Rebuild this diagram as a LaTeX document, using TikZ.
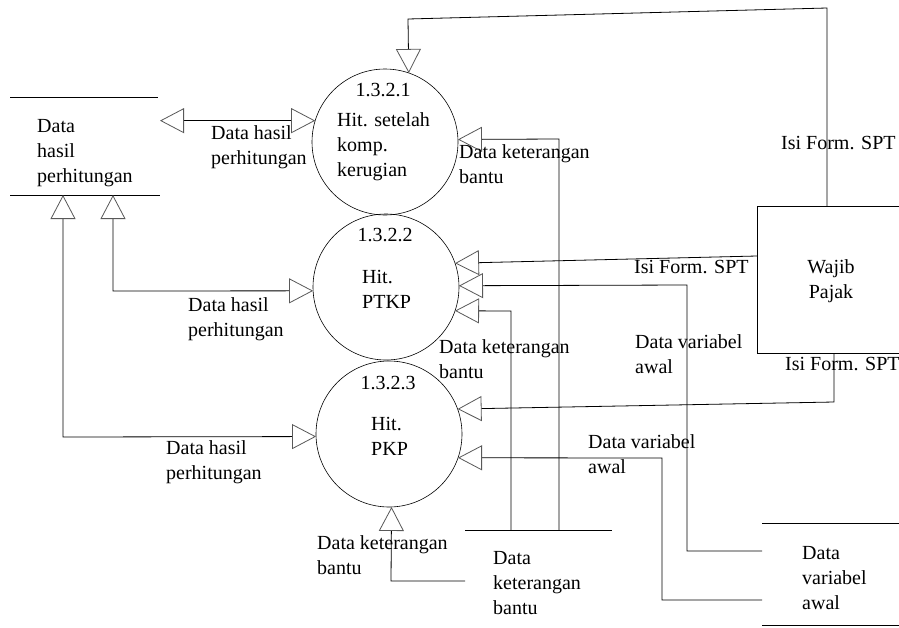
\documentclass[tikz,border=0pt]{standalone}
\usepackage{fontspec}
\setmainfont{Liberation Serif}
\usetikzlibrary{arrows.meta}
\tikzset{
  otri/.tip={Triangle[open,length=24pt,width=25pt,color=black!65]},
  flow/.style={line width=0.8pt,draw=black},
  proc/.style={circle,draw=black,line width=0.6pt,minimum size=146pt,inner sep=0pt,outer sep=0pt},
  storebox/.style={rectangle,draw=none,inner sep=0pt,outer sep=0pt,anchor=north west},
  ent/.style={rectangle,draw=black,line width=0.8pt,inner sep=0pt,outer sep=0pt,anchor=north west},
  lbl/.style={align=left,inner sep=0pt,anchor=north west},
  ctr/.style={align=center,inner sep=0pt,anchor=center},
}
\begin{document}
\begin{tikzpicture}[x=1pt,y=-1pt,font=\fontsize{20}{25}\selectfont]
\useasboundingbox[fill=white] (0,0) rectangle (899,627);

% processes
\node[proc] (c1) at (385,142) {};
\node[proc] (c2) at (386,287) {};
\node[proc] (c3) at (389,434) {};
\node[ctr] (id1) at (383,90) {1.3.2.1};
\node[lbl] (tx1) at (337,112) {Hit. setelah\\komp.\\kerugian};
\node[ctr] (id2) at (385,235) {1.3.2.2};
\node[lbl] (tx2) at (362,270) {Hit.\\PTKP};
\node[ctr] (id3) at (388,383) {1.3.2.3};
\node[lbl] (tx3) at (371,417) {Hit.\\PKP};

% data stores
\node[storebox,minimum width=150pt,minimum height=98pt] (dhp) at (10,97) {};
\draw[flow] (dhp.north west) -- ++(148,0);
\draw[flow] (dhp.south west) -- (dhp.south east);
\node[lbl] (dhpt) at (37,119) {Data\\hasil\\perhitungan};

\node[storebox,minimum width=147pt,minimum height=105pt] (dkb) at (465,530) {};
\draw[flow] (dkb.north west) -- (dkb.north east);
\node[lbl] (dkbt) at (493,551) {Data\\keterangan\\bantu};

\node[storebox,minimum width=160pt,minimum height=102pt] (dva) at (762,523) {};
\draw[flow] (dva.north west) -- (dva.north east);
\draw[flow] (dva.south west) -- (dva.south east);
\node[lbl] (dvat) at (802,546) {Data\\variabel\\awal};

% external entity
\node[ent,minimum width=170pt,minimum height=147pt] (wp) at (757,206) {};
\node[ctr] (wpt) at (831,281) {Wajib\\Pajak};

% bend points
\coordinate (t1) at (408,19);
\coordinate (t2) at (827,8);
\coordinate (k1) at (113,291);
\coordinate (k2) at (63,437);
\coordinate (k3) at (559,139);
\coordinate (k5) at (687,285);
\coordinate (k6) at (687,551);
\coordinate (k7) at (511,311);
\coordinate (k8) at (834,402);
\coordinate (k9) at (662,600);
\coordinate (k10) at (662,458);
\coordinate (k11) at (391,581);

% connectors
\draw[flow,-otri] (t2 |- wp.north) -- (t2) -- (t1) -- (c1.71.6);
\draw[flow,otri-otri] (c1.163.3 -| dhp.east) -- (c1.163.3);
\draw[flow,otri-otri] (k1 |- dhp.south) -- (k1) -- (c2.183.1);
\draw[flow,otri-otri] (k2 |- dhp.south) -- (k2) -- (c3.182.4);
\draw[flow,-otri] (k3 |- dkb.north) -- (k3) -- (c1.2.4);
\draw[flow,-otri] ([yshift=23.5pt]wp.west) -- (c2.19.2);
\draw[flow,-otri] (k6 -| dva.west) -- (k6) -- (k5) -- (c2.1.6);
\draw[flow,-otri] (k7 |- dkb.north) -- (k7) -- (c2.-19.2);
\draw[flow,-otri] (k8 |- wp.south) -- (k8) -- (c3.20);
\draw[flow,-otri] (k9 -| dva.west) -- (k9) -- (k10) -- (c3.-19.2);
\draw[flow,-otri] (k11 -| dkb.west) -- (k11) -- (c3.-88.4);

% flow labels
\node[lbl] (l1) at (211,125) {Data hasil\\perhitungan};
\node[lbl] (l2) at (459,144) {Data keterangan\\bantu};
\node[lbl] (l3) at (781,136) {Isi Form. SPT};
\node[lbl] (l4) at (634,260) {Isi Form. SPT};
\node[lbl] (l5) at (188,297) {Data hasil\\perhitungan};
\node[lbl] (l6) at (439,339) {Data keterangan\\bantu};
\node[lbl] (l7) at (635,334) {Data variabel\\awal};
\node[lbl] (l8) at (785,357) {Isi Form. SPT};
\node[lbl] (l9) at (588,434) {Data variabel\\awal};
\node[lbl] (l10) at (166,440) {Data hasil\\perhitungan};
\node[lbl] (l11) at (317,535) {Data keterangan\\bantu};
\end{tikzpicture}
\end{document}
